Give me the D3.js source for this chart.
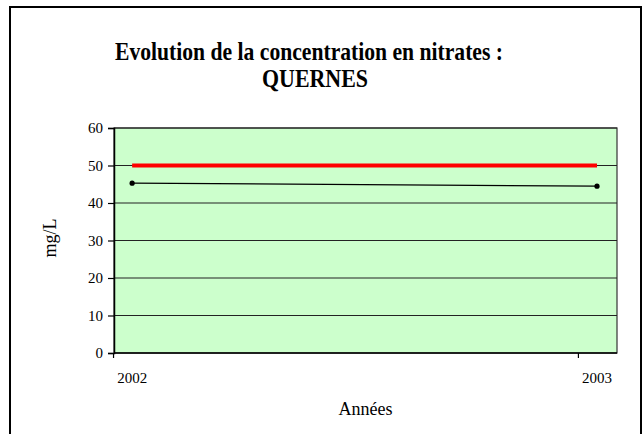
<!DOCTYPE html>
<html lang="fr">
  <head>
    <meta charset="utf-8" />
    <title>Evolution de la concentration en nitrates : QUERNES</title>
    <script src="https://cdn.jsdelivr.net/npm/d3@7"></script>
    <style>
      body { margin: 0; background: #fff; }
      text { font-family: "Liberation Serif", "Times New Roman", serif; fill: #000; }
    </style>
  </head>
  <body>
    <div id="chart"></div>
    <script>
      // data
      let years = [2002, 2003];
      let nitrates = [45.3, 44.5];
      let seuil = [50, 50];
      let yTicks = [0, 10, 20, 30, 40, 50, 60];
      let xTickMarks = [2001.96, 2002.96];

      let w = 643;
      let h = 434;
      let plotLeft = 114, plotRight = 617, plotTop = 128, plotBottom = 353;

      let svg = d3.select("#chart").append("svg")
        .attr("width", w)
        .attr("height", h);

      // chart area border
      svg.append("rect")
        .attr("x", 10).attr("y", 7)
        .attr("width", 631).attr("height", 440)
        .attr("fill", "#fff")
        .attr("stroke", "#000")
        .attr("stroke-width", 2);

      let x = d3.scaleLinear().domain([2001.961, 2003.043]).range([plotLeft, plotRight]);
      let y = d3.scaleLinear().domain([0, 60]).range([plotBottom, plotTop]);

      // plot area
      svg.append("rect")
        .attr("x", plotLeft).attr("y", plotTop)
        .attr("width", plotRight - plotLeft).attr("height", plotBottom - plotTop)
        .attr("fill", "#ccffcc")
        .attr("stroke", "#333")
        .attr("stroke-width", 1.2);

      // gridlines
      svg.selectAll("line.grid")
        .data(yTicks.filter(d => d > 0))
        .join("line")
        .attr("class", "grid")
        .attr("x1", plotLeft).attr("x2", plotRight)
        .attr("y1", d => y(d)).attr("y2", d => y(d))
        .attr("stroke", "#222")
        .attr("stroke-width", 1.2);

      // y axis
      let yAxis = svg.append("g")
        .attr("transform", `translate(${plotLeft},0)`)
        .call(d3.axisLeft(y).tickValues(yTicks).tickSize(6).tickPadding(5));
      yAxis.attr("font-family", null).attr("font-size", null);
      yAxis.select(".domain").attr("stroke", "#000").attr("stroke-width", 1.5);
      yAxis.selectAll(".tick line").attr("stroke", "#000").attr("stroke-width", 1.2);
      yAxis.selectAll("text")
        .style("font-size", "15px");

      // x axis: tick marks and labels
      let xAxis = svg.append("g")
        .attr("transform", `translate(0,${plotBottom})`);
      xAxis.append("line")
        .attr("x1", plotLeft).attr("x2", plotRight)
        .attr("stroke", "#000").attr("stroke-width", 1.5);
      xAxis.selectAll("line.tk")
        .data(xTickMarks)
        .join("line")
        .attr("class", "tk")
        .attr("x1", d => x(d)).attr("x2", d => x(d))
        .attr("y1", 0).attr("y2", 5)
        .attr("stroke", "#000").attr("stroke-width", 1.2);
      xAxis.selectAll("text")
        .data(years)
        .join("text")
        .attr("x", d => x(d))
        .attr("y", 30)
        .attr("text-anchor", "middle")
        .style("font-size", "15px")
        .text(d => d);

      // seuil line (red)
      let line = d3.line()
        .x((d, i) => x(years[i]))
        .y(d => y(d));

      svg.append("path")
        .datum(seuil)
        .attr("d", line)
        .attr("fill", "none")
        .attr("stroke", "#ff0000")
        .attr("stroke-width", 4);

      // nitrates line
      svg.append("path")
        .datum(nitrates)
        .attr("d", line)
        .attr("fill", "none")
        .attr("stroke", "#000")
        .attr("stroke-width", 1.2);

      svg.selectAll("circle.pt")
        .data(nitrates)
        .join("circle")
        .attr("class", "pt")
        .attr("cx", (d, i) => x(years[i]))
        .attr("cy", d => y(d))
        .attr("r", 2.6)
        .attr("fill", "#000");

      // titles
      svg.append("text")
        .attr("x", 309).attr("y", 60)
        .attr("text-anchor", "middle")
        .style("font-size", "25px")
        .style("font-weight", "bold")
        .attr("textLength", 388)
        .attr("lengthAdjust", "spacingAndGlyphs")
        .text("Evolution de la concentration en nitrates :");

      svg.append("text")
        .attr("x", 315).attr("y", 87)
        .attr("text-anchor", "middle")
        .style("font-size", "25px")
        .style("font-weight", "bold")
        .attr("textLength", 106)
        .attr("lengthAdjust", "spacingAndGlyphs")
        .text("QUERNES");

      svg.append("text")
        .attr("transform", `translate(56,238) rotate(-90)`)
        .attr("text-anchor", "middle")
        .style("font-size", "18px")
        .text("mg/L");

      svg.append("text")
        .attr("x", (plotLeft + plotRight) / 2)
        .attr("y", 415)
        .attr("text-anchor", "middle")
        .style("font-size", "18px")
        .text("Années");
    </script>
  </body>
</html>
